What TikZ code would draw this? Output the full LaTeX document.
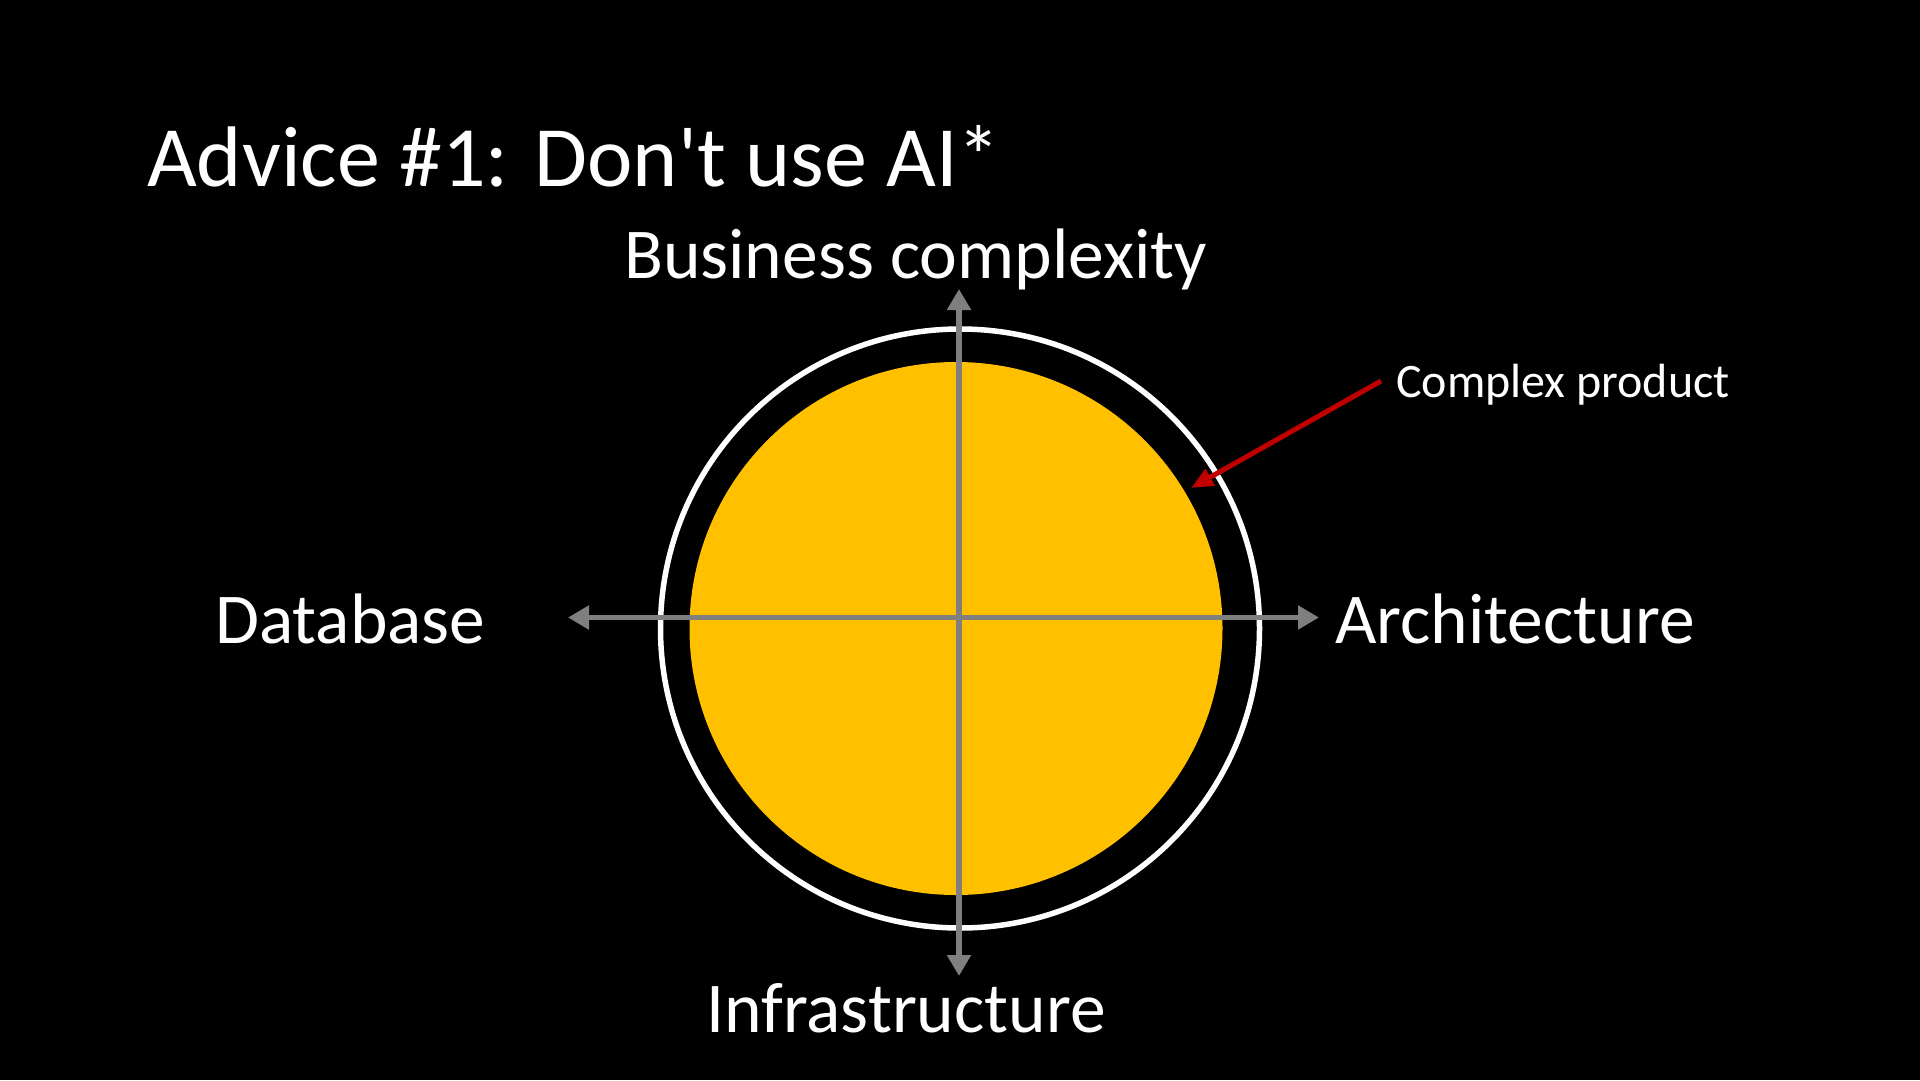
\documentclass[tikz,border=0pt]{standalone}
\usepackage{fontspec}
\setmainfont{Carlito}
\newfontfamily\titlefont{Carlito}[Ligatures=TeXOff]
\usetikzlibrary{arrows.meta}
\definecolor{gold}{HTML}{FFC000}
\definecolor{axisgray}{HTML}{7F7F7F}
\definecolor{darkred}{HTML}{C00000}
\begin{document}
\begin{tikzpicture}[x=1pt,y=-1pt,
  lbl/.style={text=white, font=\fontsize{71.5}{86}\selectfont, inner sep=0pt, anchor=base west},
  ttl/.style={text=white, font=\titlefont\fontsize{86}{100}\selectfont, inner sep=0pt, anchor=base west},
  small/.style={text=white, font=\fontsize{48}{58}\selectfont, inner sep=0pt, anchor=base west},
  axisline/.style={draw=axisgray, line width=5.5pt, {Triangle[length=21pt,width=23pt]}-{Triangle[length=21pt,width=23pt]}},
  pointer/.style={draw=darkred, line width=5pt, -{Triangle[length=22pt,width=18pt]}}]
\fill[black] (0,0) rectangle (1920,1080);
\useasboundingbox (0,0) rectangle (1920,1080);

\node[ttl] (title) at (147,186) {Advice \#1: Don't use AI*};

\node[circle, draw=white, line width=5.5pt, minimum size=599pt, inner sep=0pt] (ring) at (960,628.5) {};
\node[circle, fill=gold, minimum size=533pt, inner sep=0pt] (disc) at (956,628.5) {};

\coordinate (ctop) at (959,289);
\coordinate (cbot) at (959,976);
\coordinate (cleft) at (568,617.5);
\coordinate (cright) at (1319,617.5);
\draw[axisline] (ctop) -- (cbot);
\draw[axisline] (cleft) -- (cright);

\node[lbl] (biz) at (624,278) {Business complexity};
\node[lbl] (db) at (215,643) {Database};
\node[lbl] (arch) at (1335,643) {Architecture};
\node[lbl] (infra) at (706,1032) {Infrastructure};

\node[small] (cp) at (1396,397) {Complex product};
\coordinate (cpstart) at (1381,381);
\coordinate (cptip) at (1191,488);
\draw[pointer] (cpstart) -- (cptip);
\end{tikzpicture}
\end{document}
